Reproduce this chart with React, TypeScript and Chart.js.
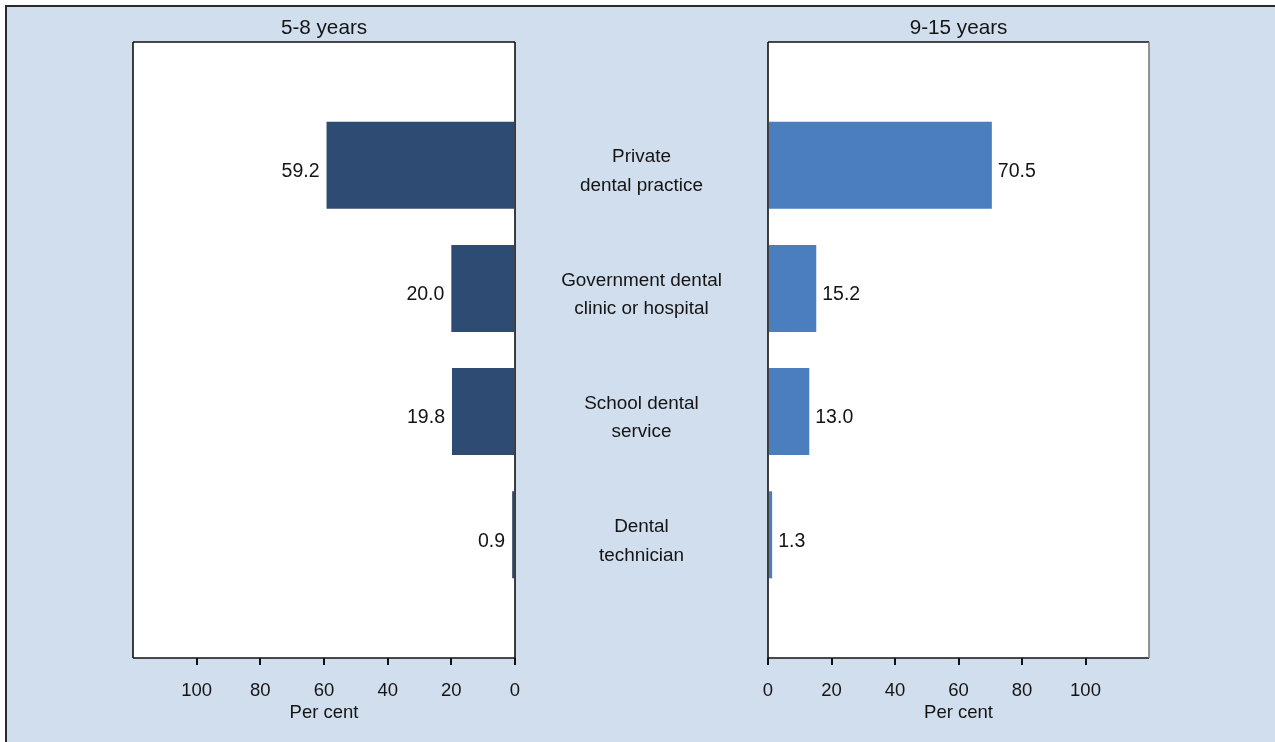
import React, { useEffect, useRef } from 'react';
import { Chart, registerables } from 'chart.js';

Chart.register(...registerables);

// ---- data ----
const categories: string[][] = [
  ['Private', 'dental practice'],
  ['Government dental', 'clinic or hospital'],
  ['School dental', 'service'],
  ['Dental', 'technician'],
];
const panelTitles = ['5-8 years', '9-15 years'];
const values5to8 = [59.2, 20.0, 19.8, 0.9];
const values9to15 = [70.5, 15.2, 13.0, 1.3];
const xTickValues = [0, 20, 40, 60, 80, 100];
const axisTitle = 'Per cent';

// ---- styles ----
const FONT = '"Liberation Sans", Arial, Helvetica, sans-serif';
const TEXT = '#141414';
const BG = '#D1DEEE';
const LEFT_COLOR = '#2E4B73';
const RIGHT_COLOR = '#4A7EBE';
const W = 1275;
const H = 742;

const panelPlugin = {
  id: 'panel',
  beforeDraw(chart: any) {
    const { ctx, chartArea: a } = chart;
    ctx.save();
    ctx.fillStyle = '#ffffff';
    ctx.fillRect(a.left, a.top, a.right - a.left, a.bottom - a.top);
    ctx.restore();
  },
  afterDatasetsDraw(chart: any, _args: any, opts: any) {
    const { ctx, chartArea: a } = chart;
    ctx.save();
    // frame
    ctx.lineWidth = 1.6;
    const line = (x1: number, y1: number, x2: number, y2: number, c: string) => {
      ctx.strokeStyle = c;
      ctx.beginPath();
      ctx.moveTo(x1, y1);
      ctx.lineTo(x2, y2);
      ctx.stroke();
    };
    line(a.left, a.top, a.right, a.top, '#111');
    line(a.left, a.bottom, a.right, a.bottom, '#111');
    line(a.left, a.top, a.left, a.bottom, '#111');
    line(a.right, a.top, a.right, a.bottom, opts.isLeft ? '#111' : '#7a7a7a');

    // value labels
    const meta = chart.getDatasetMeta(0);
    const vals = chart.data.datasets[0].data;
    ctx.fillStyle = TEXT;
    ctx.font = `19.5px ${FONT}`;
    ctx.textBaseline = 'middle';
    meta.data.forEach((bar: any, i: number) => {
      const txt = Number(vals[i].x).toFixed(1);
      if (opts.isLeft) {
        ctx.textAlign = 'right';
        ctx.fillText(txt, bar.x - 7, bar.y + 6.5);
      } else {
        ctx.textAlign = 'left';
        ctx.fillText(txt, bar.x + 6, bar.y + 6.5);
      }
    });

    // category labels between the panels
    if (opts.labels) {
      const yScale = chart.scales.y;
      ctx.font = `18.9px ${FONT}`;
      ctx.textAlign = 'center';
      opts.labels.forEach((lines: string[], i: number) => {
        const cy = yScale.getPixelForValue(i + 1) + 6.3;
        const lh = 28.5;
        const start = cy - ((lines.length - 1) * lh) / 2;
        lines.forEach((t, j) => ctx.fillText(t, opts.centerX, start + j * lh));
      });
    }
    ctx.restore();
  },
};

function makeConfig(values: number[], title: string, isLeft: boolean, color: string): any {
  return {
    type: 'bar',
    data: {
      datasets: [
        {
          data: values.map((v, i) => ({ x: v, y: i + 1 })),
          backgroundColor: color,
          borderWidth: 0,
          barPercentage: 0.706,
          categoryPercentage: 1,
        },
      ],
    },
    options: {
      indexAxis: 'y',
      animation: false,
      responsive: false,
      events: [],
      layout: {
        padding: isLeft
          ? { left: 133, right: W - 515, top: 0, bottom: 0 }
          : { left: 768, right: W - 1149, top: 0, bottom: 0 },
      },
      scales: {
        y: {
          type: 'linear',
          min: 0,
          max: 5,
          reverse: true,
          display: false,
          offset: false,
          grid: { offset: false },
          ticks: { stepSize: 1 },
        },
        x: {
          type: 'linear',
          min: 0,
          max: 120,
          reverse: isLeft,
          afterBuildTicks: (s: any) => {
            s.ticks = xTickValues.map((v) => ({ value: v }));
          },
          afterFit: (s: any) => {
            s.height = 84;
          },
          grid: {
            display: true,
            drawOnChartArea: false,
            drawTicks: true,
            tickLength: 7,
            lineWidth: 2,
            tickWidth: 2,
            color: '#111',
            tickColor: '#111',
          },
          border: { display: false },
          ticks: {
            padding: 15,
            color: TEXT,
            autoSkip: false,
            maxRotation: 0,
            font: { family: FONT, size: 18.5 },
          },
          title: {
            display: true,
            text: axisTitle,
            color: TEXT,
            font: { family: FONT, size: 18.5 },
            padding: { top: 0, bottom: 18 },
          },
        },
      },
      plugins: {
        legend: { display: false },
        tooltip: { enabled: false },
        title: {
          display: true,
          text: title,
          fullSize: false,
          color: TEXT,
          font: { family: FONT, size: 20.7, weight: 'normal' },
          padding: { top: 16, bottom: 42 - 16 - 20.7 * 1.2 },
        },
        panel: { isLeft, labels: isLeft ? categories : null, centerX: 641.5 },
      },
    },
    plugins: [panelPlugin],
  };
}

export default function App() {
  const leftRef = useRef<HTMLCanvasElement | null>(null);
  const rightRef = useRef<HTMLCanvasElement | null>(null);

  useEffect(() => {
    const c1 = new Chart(leftRef.current as HTMLCanvasElement, makeConfig(values5to8, panelTitles[0], true, LEFT_COLOR));
    const c2 = new Chart(rightRef.current as HTMLCanvasElement, makeConfig(values9to15, panelTitles[1], false, RIGHT_COLOR));
    return () => {
      c1.destroy();
      c2.destroy();
    };
  }, []);

  const canvasStyle: React.CSSProperties = { position: 'absolute', left: 0, top: 0, width: W, height: H };

  return (
    <div style={{ position: 'fixed', left: 0, top: 0, width: W, height: H, background: '#ffffff', overflow: 'hidden' }}>
      <div
        style={{
          position: 'absolute',
          left: 5,
          top: 5,
          width: W,
          height: H,
          background: BG,
          borderLeft: '2px solid #2a2a2a',
          borderTop: '2px solid #2a2a2a',
        }}
      />
      <canvas ref={leftRef} width={W} height={H} style={canvasStyle} />
      <canvas ref={rightRef} width={W} height={H} style={canvasStyle} />
    </div>
  );
}
